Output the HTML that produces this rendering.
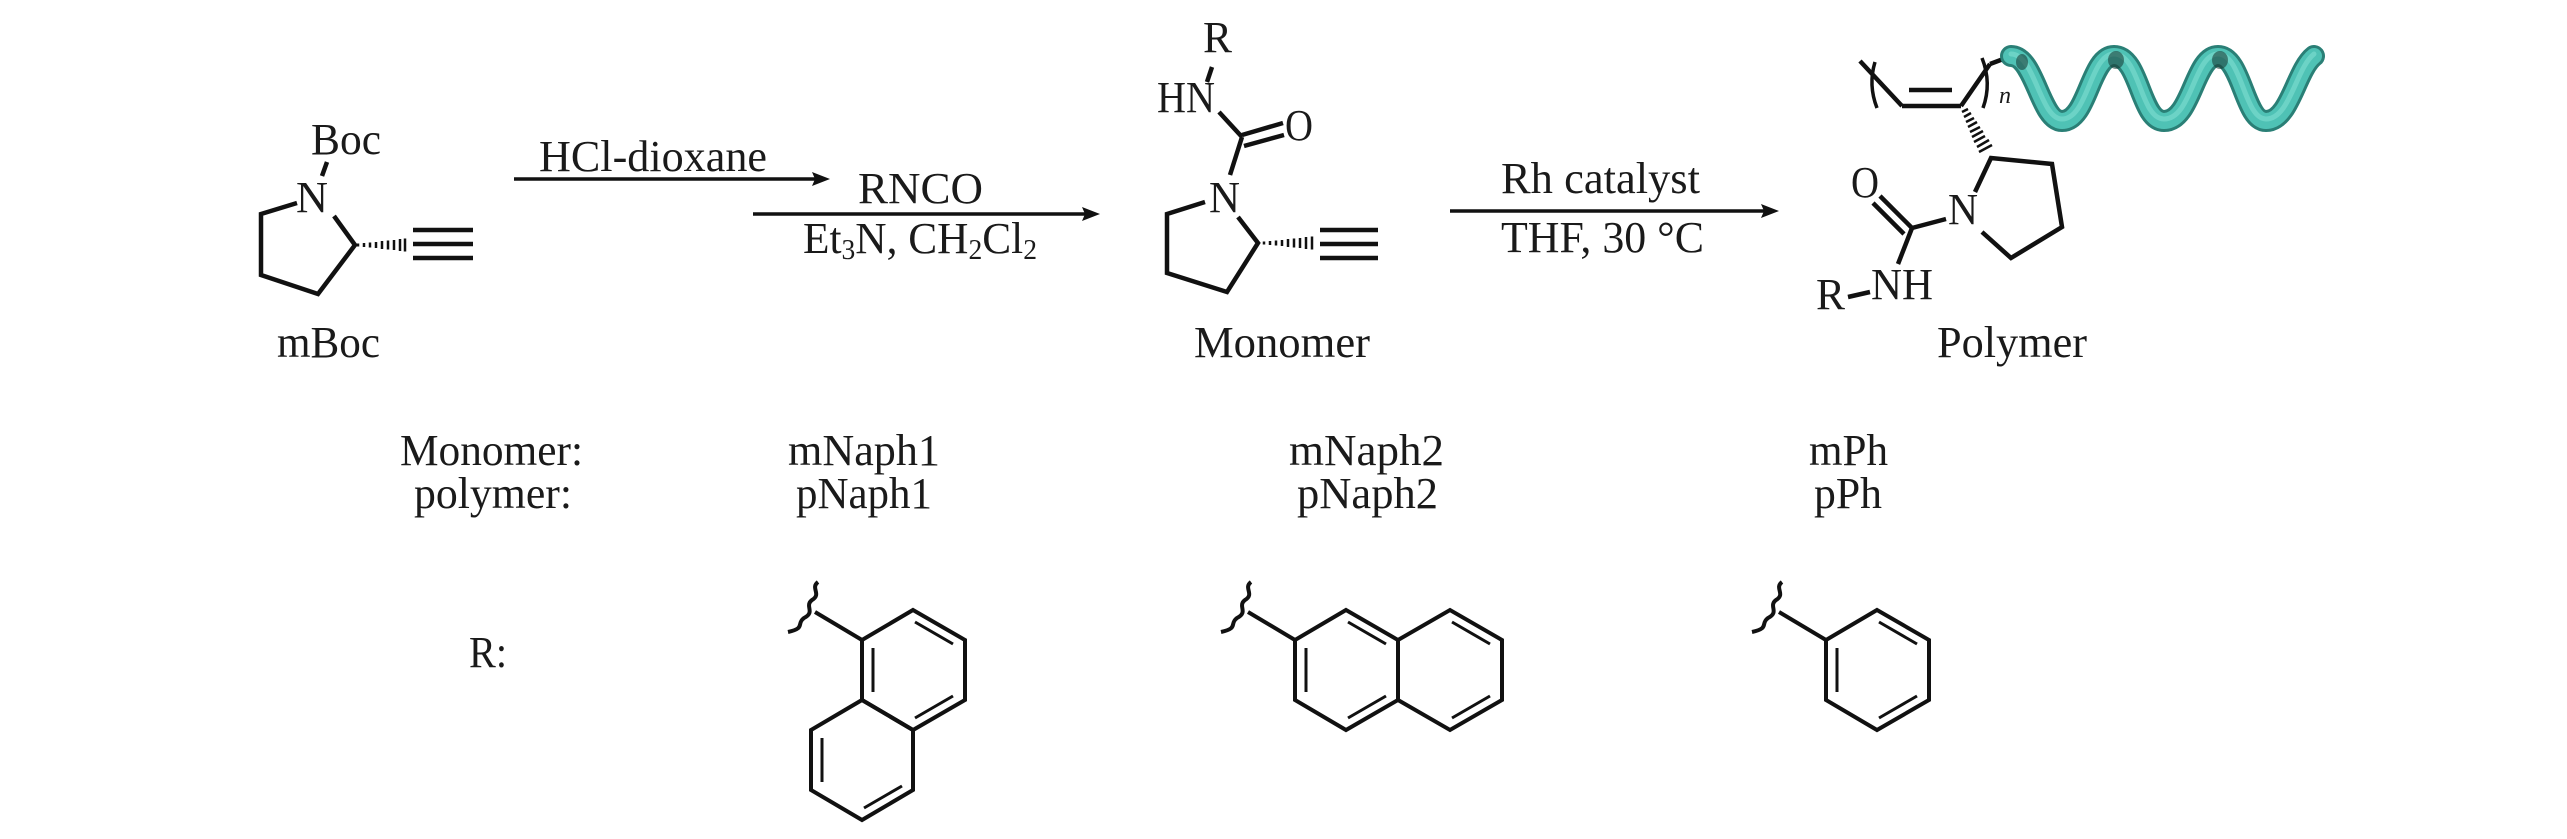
<!DOCTYPE html>
<html><head><meta charset="utf-8"><style>
html,body{margin:0;padding:0;background:#fff;}
svg{display:block;}
text{font-family:"Liberation Serif",serif;fill:#1a1a1a;}
</style></head><body>
<svg width="2567" height="839" viewBox="0 0 2567 839" xmlns="http://www.w3.org/2000/svg">
<g stroke="#111" stroke-width="4.5" fill="none" stroke-linecap="butt" stroke-linejoin="miter">
<!-- mBoc -->
<line x1="327" y1="162" x2="322" y2="176"/>
<polyline points="297,203 261,214 261,275 318,294 355,245 334,216"/>
<line x1="413" y1="230" x2="473" y2="230"/>
<line x1="413" y1="244" x2="473" y2="244"/>
<line x1="413" y1="258" x2="473" y2="258"/>
<!-- monomer -->
<line x1="1212" y1="67" x2="1207" y2="82"/>
<line x1="1219" y1="112" x2="1242" y2="137"/>
<line x1="1242" y1="135" x2="1283" y2="123"/>
<line x1="1244" y1="146" x2="1284" y2="135"/>
<line x1="1242" y1="137" x2="1230" y2="175"/>
<polyline points="1205,202 1167,214 1167,273 1227,292 1258,243 1238,217"/>
<line x1="1320" y1="230" x2="1378" y2="230"/>
<line x1="1320" y1="244" x2="1378" y2="244"/>
<line x1="1320" y1="258" x2="1378" y2="258"/>
<!-- polymer -->
<line x1="1860" y1="61" x2="1902" y2="106"/>
<line x1="1902" y1="106" x2="1961" y2="106"/>
<line x1="1909" y1="90" x2="1952" y2="90"/>
<line x1="1961" y1="106" x2="1990" y2="64"/>
<line x1="1990" y1="64" x2="2006" y2="58"/>
<path d="M1875,62 Q1868,85 1877,108" stroke-width="3.5"/>
<path d="M1982,58 Q1992,83 1983,108" stroke-width="3.5"/>
<polyline points="1975,192 1991,158 2052,164 2062,227 2011,258 1982,232"/>
<line x1="1912" y1="228" x2="1946" y2="219"/>
<line x1="1912" y1="228" x2="1880" y2="196"/>
<line x1="1904" y1="234" x2="1873" y2="203"/>
<line x1="1912" y1="228" x2="1898" y2="264"/>
<line x1="1848" y1="297" x2="1870" y2="292"/>
<!-- arrows -->
<line x1="514" y1="179" x2="815" y2="179" stroke-width="3.5"/>
<line x1="753" y1="214" x2="1085" y2="214" stroke-width="3.5"/>
<line x1="1450" y1="211" x2="1764" y2="211" stroke-width="3.5"/>
</g>
<g fill="#111">
<polygon points="830,179 812,172 815,179 812,186"/>
<polygon points="1100,214 1082,207 1085,214 1082,221"/>
<polygon points="1779,211 1761,204 1764,211 1761,218"/>
</g>
<!-- hashed bonds -->
<g stroke="#111" stroke-width="2.5">
<line x1="358" y1="243.5" x2="358" y2="246.5"/><line x1="364" y1="243" x2="364" y2="247"/>
<line x1="370" y1="242.5" x2="370" y2="247.5"/><line x1="376" y1="242" x2="376" y2="248"/>
<line x1="382" y1="241" x2="382" y2="249"/><line x1="388" y1="240.5" x2="388" y2="249.5"/>
<line x1="394" y1="240" x2="394" y2="250"/><line x1="400" y1="239" x2="400" y2="251"/><line x1="405" y1="238.5" x2="405" y2="251.5"/>
<line x1="1264" y1="241.5" x2="1264" y2="244.5"/><line x1="1270" y1="241" x2="1270" y2="245"/>
<line x1="1276" y1="240.5" x2="1276" y2="245.5"/><line x1="1282" y1="240" x2="1282" y2="246"/>
<line x1="1288" y1="239" x2="1288" y2="247"/><line x1="1294" y1="238.5" x2="1294" y2="247.5"/>
<line x1="1300" y1="238" x2="1300" y2="248"/><line x1="1306" y1="237" x2="1306" y2="249"/><line x1="1312" y1="236.5" x2="1312" y2="249.5"/>
<line x1="1962" y1="112" x2="1968" y2="109"/><line x1="1964" y1="117" x2="1971" y2="113"/>
<line x1="1966" y1="122" x2="1974" y2="118"/><line x1="1968" y1="127" x2="1977" y2="122"/>
<line x1="1970" y1="132" x2="1980" y2="127"/><line x1="1972" y1="137" x2="1983" y2="131"/>
<line x1="1974" y1="142" x2="1985" y2="136"/><line x1="1977" y1="147" x2="1989" y2="140"/><line x1="1979" y1="152" x2="1992" y2="145"/>
</g>
<!-- helix -->
<path d="M2011,56 C2035,56 2040,121 2062,121 C2088,121 2090,56 2114,56 C2140,56 2140,121 2164,121 C2192,121 2194,56 2218,56 C2242,56 2244,121 2266,121 C2290,121 2296,70 2314,56" fill="none" stroke="#2a7f76" stroke-width="22" stroke-linecap="round"/>
<path d="M2011,56 C2035,56 2040,121 2062,121 C2088,121 2090,56 2114,56 C2140,56 2140,121 2164,121 C2192,121 2194,56 2218,56 C2242,56 2244,121 2266,121 C2290,121 2296,70 2314,56" fill="none" stroke="#4fc2b5" stroke-width="16" stroke-linecap="round"/>
<path d="M2011,54 C2035,54 2040,119 2062,119 C2088,119 2090,54 2114,54 C2140,54 2140,119 2164,119 C2192,119 2194,54 2218,54 C2242,54 2244,119 2266,119 C2290,119 2296,68 2314,54" fill="none" stroke="#80ddd2" stroke-width="5" stroke-linecap="round" opacity="0.6"/>
<g fill="#163430" opacity="0.55"><ellipse cx="2116" cy="60" rx="8" ry="9"/><ellipse cx="2220" cy="60" rx="8" ry="9"/><ellipse cx="2022" cy="62" rx="6" ry="8"/></g>
<!-- R groups -->
<g stroke="#111" stroke-width="4" fill="none" stroke-linejoin="miter">
<polygon points="913,610 965,640 965,700 913,730 862,700 862,640"/>
<polygon points="862,700 913,730 913,790 862,820 811,790 811,730"/>
<line x1="862" y1="640" x2="815" y2="612"/>
<path d="M818,582 c-8,6 4,12 -6,18 c-8,6 4,12 -8,18 c-8,6 2,10 -16,14"/>
<polygon points="1346,610 1398,640 1398,700 1346,730 1295,700 1295,640"/>
<polygon points="1398,640 1450,610 1502,640 1502,700 1450,730 1398,700"/>
<line x1="1295" y1="640" x2="1248" y2="612"/>
<path d="M1251,582 c-8,6 4,12 -6,18 c-8,6 4,12 -8,18 c-8,6 2,10 -16,14"/>
<polygon points="1877,610 1929,640 1929,700 1877,730 1826,700 1826,640"/>
<line x1="1826" y1="640" x2="1779" y2="612"/>
<path d="M1782,582 c-8,6 4,12 -6,18 c-8,6 4,12 -8,18 c-8,6 2,10 -16,14"/>
</g>
<g stroke="#111" stroke-width="3" fill="none">
<line x1="915" y1="622" x2="953" y2="644"/><line x1="873" y1="648" x2="873" y2="692"/><line x1="953" y1="696" x2="915" y2="718"/>
<line x1="822" y1="738" x2="822" y2="782"/><line x1="902" y1="786" x2="864" y2="808"/>
<line x1="1348" y1="622" x2="1386" y2="644"/><line x1="1306" y1="648" x2="1306" y2="692"/><line x1="1386" y1="696" x2="1348" y2="718"/>
<line x1="1452" y1="622" x2="1490" y2="644"/><line x1="1490" y1="696" x2="1452" y2="718"/>
<line x1="1879" y1="622" x2="1917" y2="644"/><line x1="1837" y1="648" x2="1837" y2="692"/><line x1="1917" y1="696" x2="1879" y2="718"/>
</g>
<!-- text -->
<g font-size="44">
<text x="311" y="154" textLength="70" lengthAdjust="spacingAndGlyphs">Boc</text>
<text x="296" y="212" textLength="32" lengthAdjust="spacingAndGlyphs">N</text>
<text x="277" y="357" textLength="103" lengthAdjust="spacingAndGlyphs">mBoc</text>
<text x="539" y="171" textLength="228" lengthAdjust="spacingAndGlyphs">HCl-dioxane</text>
<text x="858" y="203" textLength="125" lengthAdjust="spacingAndGlyphs">RNCO</text>
<text x="803" y="253" textLength="234" lengthAdjust="spacingAndGlyphs">Et<tspan font-size="28" dy="6">3</tspan><tspan dy="-6">N, CH</tspan><tspan font-size="28" dy="6">2</tspan><tspan dy="-6">Cl</tspan><tspan font-size="28" dy="6">2</tspan></text>
<text x="1203" y="52" textLength="29" lengthAdjust="spacingAndGlyphs">R</text>
<text x="1157" y="112" textLength="58" lengthAdjust="spacingAndGlyphs">HN</text>
<text x="1285" y="140" textLength="28" lengthAdjust="spacingAndGlyphs">O</text>
<text x="1209" y="212" textLength="31" lengthAdjust="spacingAndGlyphs">N</text>
<text x="1194" y="357" textLength="176" lengthAdjust="spacingAndGlyphs">Monomer</text>
<text x="1501" y="193" textLength="199" lengthAdjust="spacingAndGlyphs">Rh catalyst</text>
<text x="1501" y="252" textLength="203" lengthAdjust="spacingAndGlyphs">THF, 30 °C</text>
<text x="1948" y="224" textLength="30" lengthAdjust="spacingAndGlyphs">N</text>
<text x="1851" y="197" textLength="28" lengthAdjust="spacingAndGlyphs">O</text>
<text x="1871" y="299" textLength="62" lengthAdjust="spacingAndGlyphs">NH</text>
<text x="1816" y="309" textLength="29" lengthAdjust="spacingAndGlyphs">R</text>
<text x="1999" y="103" font-size="24" font-style="italic">n</text>
<text x="1937" y="357" textLength="150" lengthAdjust="spacingAndGlyphs">Polymer</text>
<text x="400" y="465" textLength="183" lengthAdjust="spacingAndGlyphs">Monomer:</text>
<text x="414" y="508" textLength="158" lengthAdjust="spacingAndGlyphs">polymer:</text>
<text x="788" y="465" textLength="152" lengthAdjust="spacingAndGlyphs">mNaph1</text>
<text x="796" y="508" textLength="136" lengthAdjust="spacingAndGlyphs">pNaph1</text>
<text x="1289" y="465" textLength="155" lengthAdjust="spacingAndGlyphs">mNaph2</text>
<text x="1297" y="508" textLength="141" lengthAdjust="spacingAndGlyphs">pNaph2</text>
<text x="1809" y="465" textLength="79" lengthAdjust="spacingAndGlyphs">mPh</text>
<text x="1814" y="508" textLength="68" lengthAdjust="spacingAndGlyphs">pPh</text>
<text x="469" y="667" textLength="38" lengthAdjust="spacingAndGlyphs">R:</text>
</g>
</svg>
</body></html>
